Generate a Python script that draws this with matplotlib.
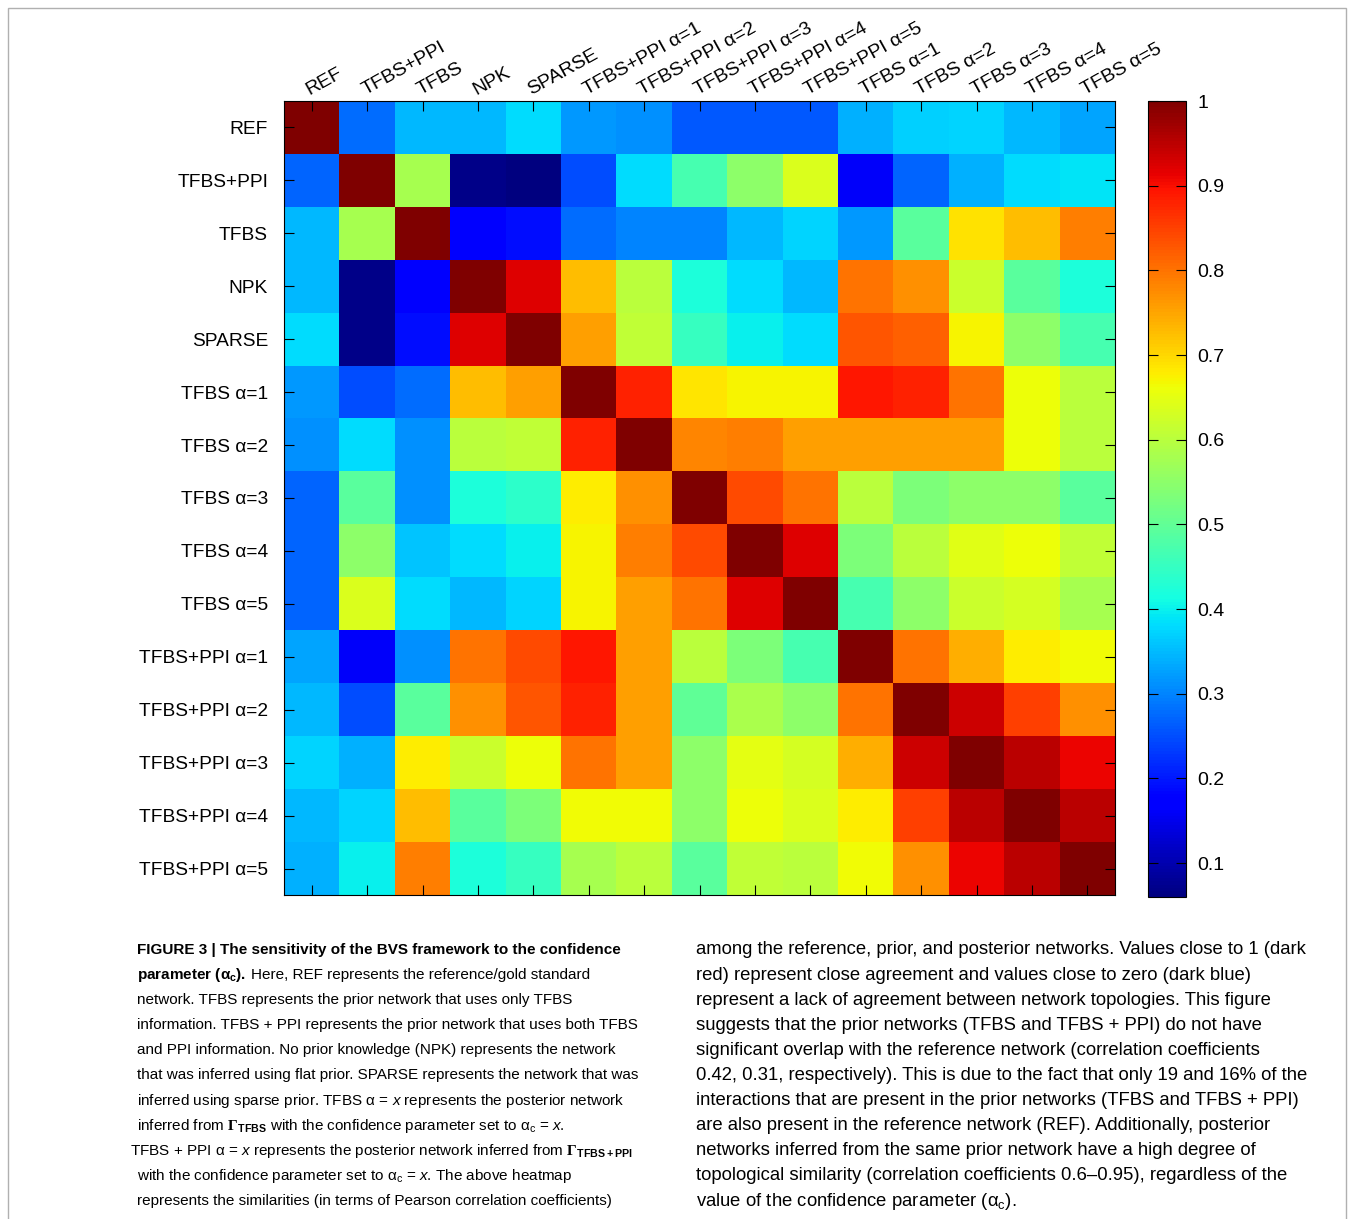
import numpy as np
import matplotlib
matplotlib.use("Agg")
import matplotlib.pyplot as plt
from matplotlib.patches import Rectangle
from matplotlib import font_manager

plt.rcParams['font.family'] = ['Liberation Sans', 'DejaVu Sans']
plt.rcParams['mathtext.fontset'] = 'custom'
plt.rcParams['mathtext.rm'] = 'Liberation Sans'
plt.rcParams['mathtext.it'] = 'Liberation Sans:italic'
plt.rcParams['mathtext.bf'] = 'Liberation Serif:bold'
plt.rcParams['mathtext.sf'] = 'Liberation Sans:bold'

# row labels (left) and column labels (top) as printed in the figure
row_labels = ['REF', 'TFBS+PPI', 'TFBS', 'NPK', 'SPARSE',
              'TFBS α=1', 'TFBS α=2', 'TFBS α=3', 'TFBS α=4', 'TFBS α=5',
              'TFBS+PPI α=1', 'TFBS+PPI α=2', 'TFBS+PPI α=3', 'TFBS+PPI α=4', 'TFBS+PPI α=5']
col_labels = ['REF', 'TFBS+PPI', 'TFBS', 'NPK', 'SPARSE',
              'TFBS+PPI α=1', 'TFBS+PPI α=2', 'TFBS+PPI α=3', 'TFBS+PPI α=4', 'TFBS+PPI α=5',
              'TFBS α=1', 'TFBS α=2', 'TFBS α=3', 'TFBS α=4', 'TFBS α=5']

# Pearson correlation values
corr = [
    [1.00, 0.28, 0.35, 0.35, 0.38, 0.32, 0.31, 0.26, 0.26, 0.26, 0.34, 0.37, 0.375, 0.35, 0.33],
    [0.27, 1.00, 0.58, 0.07, 0.06, 0.25, 0.38, 0.47, 0.55, 0.64, 0.16, 0.27, 0.34, 0.38, 0.39],
    [0.35, 0.58, 1.00, 0.17, 0.19, 0.28, 0.30, 0.30, 0.35, 0.375, 0.32, 0.49, 0.69, 0.725, 0.79],
    [0.35, 0.07, 0.17, 1.00, 0.92, 0.725, 0.60, 0.42, 0.38, 0.35, 0.80, 0.77, 0.62, 0.49, 0.42],
    [0.38, 0.07, 0.19, 0.92, 1.00, 0.755, 0.61, 0.45, 0.40, 0.38, 0.83, 0.82, 0.67, 0.55, 0.47],
    [0.32, 0.25, 0.28, 0.725, 0.755, 1.00, 0.88, 0.685, 0.67, 0.67, 0.89, 0.88, 0.80, 0.66, 0.60],
    [0.31, 0.38, 0.31, 0.60, 0.61, 0.88, 1.00, 0.78, 0.79, 0.755, 0.755, 0.755, 0.755, 0.66, 0.60],
    [0.27, 0.49, 0.31, 0.42, 0.44, 0.68, 0.77, 1.00, 0.84, 0.80, 0.60, 0.53, 0.55, 0.55, 0.49],
    [0.27, 0.55, 0.36, 0.38, 0.40, 0.67, 0.79, 0.84, 1.00, 0.92, 0.53, 0.60, 0.645, 0.66, 0.61],
    [0.27, 0.64, 0.38, 0.35, 0.375, 0.67, 0.755, 0.80, 0.92, 1.00, 0.47, 0.55, 0.62, 0.63, 0.58],
    [0.33, 0.16, 0.31, 0.80, 0.84, 0.89, 0.755, 0.60, 0.53, 0.47, 1.00, 0.80, 0.74, 0.68, 0.665],
    [0.35, 0.25, 0.49, 0.77, 0.83, 0.88, 0.755, 0.50, 0.585, 0.55, 0.80, 1.00, 0.935, 0.85, 0.77],
    [0.375, 0.34, 0.68, 0.62, 0.66, 0.80, 0.755, 0.55, 0.65, 0.63, 0.74, 0.935, 1.00, 0.95, 0.91],
    [0.35, 0.375, 0.725, 0.49, 0.53, 0.665, 0.665, 0.55, 0.66, 0.64, 0.68, 0.85, 0.95, 1.00, 0.95],
    [0.34, 0.40, 0.79, 0.42, 0.45, 0.58, 0.60, 0.49, 0.61, 0.60, 0.665, 0.77, 0.91, 0.95, 1.00],
]
cbar_ticks = [0.1, 0.2, 0.3, 0.4, 0.5, 0.6, 0.7, 0.8, 0.9, 1]

ax_c = r"α$_\mathrm{c}$"
xi = r"$\mathit{x}$"
caption_left = [
    None,  # bold title line, drawn separately
    None,  # mixed bold/normal line
    "network. TFBS represents the prior network that uses only TFBS",
    "information. TFBS + PPI represents the prior network that uses both TFBS",
    "and PPI information. No prior knowledge (NPK) represents the network",
    "that was inferred using flat prior. SPARSE represents the network that was",
    "inferred using sparse prior. TFBS α = " + xi + " represents the posterior network",
    r"inferred from $\mathbf{\Gamma}_\mathsf{TFBS}$ with the confidence parameter set to " + ax_c + " = " + xi + ".",
    "TFBS + PPI α = " + xi + r" represents the posterior network inferred from $\mathbf{\Gamma}_\mathsf{TFBS+PPI}$",
    "with the confidence parameter set to " + ax_c + " = " + xi + ". The above heatmap",
    "represents the similarities (in terms of Pearson correlation coefficients)",
]
caption_right = [
    "among the reference, prior, and posterior networks. Values close to 1 (dark",
    "red) represent close agreement and values close to zero (dark blue)",
    "represent a lack of agreement between network topologies. This figure",
    "suggests that the prior networks (TFBS and TFBS + PPI) do not have",
    "significant overlap with the reference network (correlation coefficients",
    "0.42, 0.31, respectively). This is due to the fact that only 19 and 16% of the",
    "interactions that are present in the prior networks (TFBS and TFBS + PPI)",
    "are also present in the reference network (REF). Additionally, posterior",
    "networks inferred from the same prior network have a high degree of",
    "topological similarity (correlation coefficients 0.6–0.95), regardless of the",
    "value of the confidence parameter (" + ax_c + ").",
]

# the left caption column is set in a narrower face in the original
installed = {f.name for f in font_manager.fontManager.ttflist}
if 'Liberation Sans Narrow' in installed:
    left_family = ['Liberation Sans Narrow', 'DejaVu Sans']
    fs_left = 13.2
else:
    left_family = ['Liberation Sans', 'DejaVu Sans']
    fs_left = 11.0
fs_right = 13.3

W, H = 1354, 1219
fig = plt.figure(figsize=(W / 100, H / 100), dpi=100)

# outer frame
fig.patches.append(Rectangle((8 / W, -0.01), 1338 / W, 1 - 8 / H + 0.01, transform=fig.transFigure,
                             fill=False, edgecolor='#b0b0b0', linewidth=1))

data = np.array(corr)
n = data.shape[0]

ax = fig.add_axes([284 / W, 1 - 895 / H, 831 / W, 794 / H])
im = ax.imshow(data, cmap='jet', vmin=0.06, vmax=1, aspect='auto', interpolation='nearest')
ax.set_xticks(np.arange(n))
ax.set_yticks(np.arange(n))
ax.set_yticklabels(row_labels, fontsize=13.8)
ax.set_xticklabels(col_labels, fontsize=14, rotation=29, ha='left', va='bottom', rotation_mode='anchor')
ax.tick_params(top=True, bottom=True, left=True, right=True, labeltop=True, labelbottom=False,
               direction='in', length=7, width=0.8)
ax.tick_params(axis='y', pad=11.5)
ax.tick_params(axis='x', pad=2)
for s in ax.spines.values():
    s.set_linewidth(0.8)

cax = fig.add_axes([1148 / W, 1 - 897 / H, 38 / W, 796 / H])
cb = fig.colorbar(im, cax=cax, ticks=cbar_ticks)
cb.ax.set_yticklabels(['0.1', '0.2', '0.3', '0.4', '0.5', '0.6', '0.7', '0.8', '0.9', '1'])
cb.ax.tick_params(direction='in', length=7, width=0.8, labelsize=14, left=True, right=True, pad=8)
cb.outline.set_linewidth(0.8)

# caption
line_h = 25.1
y0 = 950
renderer = fig.canvas.get_renderer()

fig.text(137 / W, 1 - y0 / H, "FIGURE 3 | The sensitivity of the BVS framework to the confidence",
         fontsize=fs_left, fontweight='bold', family=left_family, va='center', ha='left')
t_bold = fig.text(137 / W, 1 - (y0 + line_h) / H, r"parameter (α$_\mathsf{c}$).",
                  fontsize=fs_left, fontweight='bold', family=left_family, va='center', ha='left')
bb = t_bold.get_window_extent(renderer)
fig.text((bb.x1 + 5) / W, 1 - (y0 + line_h) / H, "Here, REF represents the reference/gold standard",
         fontsize=fs_left, family=left_family, va='center', ha='left')

for i, line in enumerate(caption_left):
    if line is None:
        continue
    x = 130 if i == 8 else 137
    fig.text(x / W, 1 - (y0 + i * line_h) / H, line, fontsize=fs_left, family=left_family,
             va='center', ha='left')

for i, line in enumerate(caption_right):
    fig.text(696 / W, 1 - (y0 + i * line_h) / H, line, fontsize=fs_right, va='center', ha='left')

fig.savefig("out.png", dpi=100)
